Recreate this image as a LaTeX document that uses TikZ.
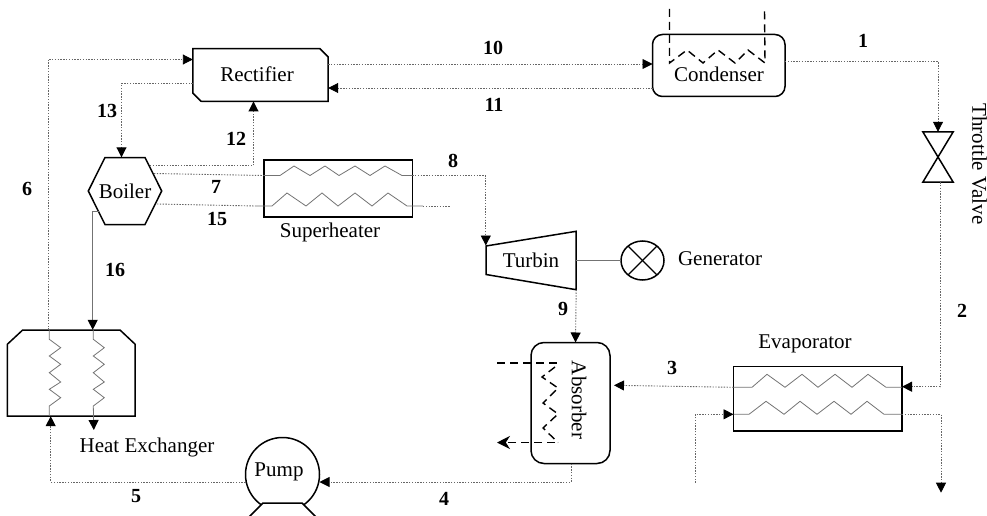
\documentclass[tikz,border=0pt]{standalone}
\usepackage{fontspec}
\setmainfont{Liberation Serif}
\usetikzlibrary{arrows.meta}
\usetikzlibrary{shapes.geometric}

\tikzset{
    unitbox/.style={draw=black, line width=1.5pt, inner sep=0pt, outer sep=0pt},
    flow/.style={draw=black!60, line width=0.9pt, dash pattern=on 1.4pt off 1.4pt},
    pipe/.style={draw=black!55, line width=0.8pt},
    coolant/.style={draw=black, line width=1.4pt, dash pattern=on 8pt off 5pt},
    tip/.style={-{Triangle[black,length=10pt,width=10pt]}},
    namelabel/.style={font=\fontsize{21}{25}\selectfont, inner sep=0pt},
    numlabel/.style={font=\fontsize{20}{24}\selectfont\bfseries, inner sep=0pt}
}

\begin{document}
\begin{tikzpicture}[x=1pt, y=-1pt]
    \useasboundingbox (0, 0) rectangle (987, 516);

    % units
    \node[inner sep=0pt, minimum width=135, minimum height=52.5] (rectifier) at (260.5, 75) {};
    \draw[unitbox] (rectifier.north west) -- (320, 48.75) -- (rectifier.east |- 0, 57) -- (rectifier.south east)
        -- (201, 101.25) -- (rectifier.west |- 0, 93) -- cycle;
    \node[namelabel] (rectifiertext) at (257, 74) {Rectifier};

    \node[unitbox, rounded corners=10pt, rectangle, minimum width=132.5, minimum height=62] (condenser) at (718.75, 65.5) {};
    \node[namelabel] (condensertext) at (719, 74) {Condenser};

    \node[namelabel, minimum width=73, minimum height=67] (boiler) at (125, 191) {Boiler};
    \draw[unitbox] (boiler.west) -- (105, 157.5) -- (145, 157.5) -- (boiler.east) -- (145, 224.5) -- (105, 224.5) -- cycle;
    \coordinate (boilerA) at (150, 165.5);
    \coordinate (boilerB) at (154, 173.5);
    \coordinate (boilerC) at (157, 204);
    \coordinate (boilerD) at (99, 211);

    \node[unitbox, rectangle, minimum width=148.5, minimum height=57] (superheater) at (338, 188.5) {};
    \node[namelabel] (superheatertext) at (330, 232) {Superheater};

    \node[namelabel, minimum width=90, minimum height=58] (turbin) at (531, 260.5) {Turbin};
    \draw[unitbox] (486, 246) -- (turbin.north east) -- (turbin.south east) -- (486, 274.5) -- cycle;

    \node[unitbox, ellipse, minimum width=43, minimum height=39] (generator) at (642.5, 260.5) {};
    \draw[line width=1.2pt] (generator.45) -- (generator.225);
    \draw[line width=1.2pt] (generator.135) -- (generator.-45);
    \node[namelabel] (generatortext) at (720, 259) {Generator};

    \node[minimum width=30, minimum height=50, inner sep=0pt] (valve) at (938, 157) {};
    \draw[unitbox] (valve.north west) -- (valve.north east) -- (valve.south west) -- (valve.south east) -- cycle;
    \node[namelabel, rotate=-90] (valvetext) at (979.5, 164) {Throttle Valve};

    \node[unitbox, rectangle, minimum width=168.5, minimum height=64.5] (evaporator) at (817.75, 398.75) {};
    \node[namelabel] (evaporatortext) at (805, 344) {Evaporator};

    \node[unitbox, rectangle, rounded corners=13pt, minimum width=79, minimum height=121] (absorber) at (570.5, 403) {};
    \node[namelabel, rotate=-90] (absorbertext) at (579, 400) {Absorber};
    \coordinate (absorberport) at (614, 385.3);

    \node[unitbox, circle, minimum size=74] (pump) at (282.5, 474.5) {};
    \filldraw[unitbox, fill=white] (263, 503) -- (302, 503) -- (316, 517) -- (249, 517) -- cycle;
    \node[namelabel] (pumptext) at (279, 472) {Pump};

    \node[inner sep=0pt, minimum width=127.5, minimum height=86] (exchanger) at (71.25, 373) {};
    \draw[unitbox] (exchanger.south west) -- (exchanger.west |- 0, 344.3) -- (22.7, 330) -- (120, 330)
        -- (exchanger.east |- 0, 344.3) -- (exchanger.south east) -- cycle;
    \node[namelabel] (exchangertext) at (147, 447) {Heat Exchanger};

    % coils
    \draw[pipe] (superheater.west |- 0, 175.5) -- (280, 175.5) -- (294, 166) -- (310, 175.5) -- (325, 166) -- (339, 175.5)
        -- (355, 166) -- (370, 175.5) -- (385, 166) -- (402, 175.5) -- (superheater.east |- 0, 175.5);
    \draw[pipe] (255, 206) -- (272, 206) -- (287, 193) -- (306, 206) -- (322, 193) -- (338, 206)
        -- (355, 193) -- (372, 206) -- (388, 193) -- (407, 206) -- (423, 206);

    \draw[pipe] (evaporator.west |- 0, 387.3) -- (752, 387.3) -- (767, 374.3) -- (785, 387.3) -- (802, 374.3) -- (818, 387.3)
        -- (835, 374.3) -- (852, 387.3) -- (868, 374.3) -- (886, 387.3) -- (evaporator.east |- 0, 387.3);
    \draw[pipe] (evaporator.west |- 0, 414.3) -- (749, 414.3) -- (766, 401.3) -- (784, 414.3) -- (800, 401.3) -- (817, 414.3)
        -- (834, 401.3) -- (851, 414.3) -- (867, 401.3) -- (884, 414.3) -- (evaporator.east |- 0, 414.3);

    \draw[pipe] (exchanger.north -| 49.3, 0) -- (49.3, 339.3) -- (60.7, 347.7) -- (49.3, 356) -- (60.7, 364.3) -- (49.3, 372.7)
        -- (60.7, 382) -- (49.3, 389.3) -- (60.7, 397.7) -- (49.3, 406) -- (exchanger.south -| 49.3, 0);
    \draw[pipe, tip] (exchanger.north -| 93.3, 0) -- (93.3, 339.3) -- (104.3, 347.7) -- (93.3, 356) -- (104.3, 364.3) -- (93.3, 372.7)
        -- (104.3, 382) -- (93.3, 389.3) -- (104.3, 397.7) -- (93.3, 406) -- (93.8, 430);

    % cooling water
    \coordinate (condenserinA) at (669.5, 9);
    \coordinate (condenserinB) at (764.5, 10);
    \draw[coolant] (condenserinA) -- (669.5, 63) -- (687, 50) -- (703, 63) -- (718, 50) -- (735, 63) -- (748, 50)
        -- (765, 63) -- (condenserinB);

    \coordinate (absorberin) at (497, 363);
    \coordinate (absorberout) at (497, 442.5);
    \draw[coolant] (absorberin) -- (560, 363);
    \draw[coolant] (555, 367) -- (542, 377) -- (558, 388) -- (543, 403) -- (558, 414) -- (543, 428) -- (558, 442.5);
    \draw[coolant, -{Stealth[length=13pt,width=13pt]}] (555, 442.5) -- (absorberout);

    % streams
    \draw[flow, tip] (exchanger.north -| 48, 0) -- (48, 59.5) -- (rectifier.west |- 0, 59.5);
    \draw[flow, tip] (rectifier.west |- 0, 83.5) -| (boiler.north -| 121.5, 0);
    \draw[flow, tip] (boilerA) -| (rectifier.south -| 253.5, 0);
    \draw[flow] (boilerB) -- (superheater.west |- 0, 175.5);
    \draw[flow] (boilerC) -- (255, 206);
    \draw[flow] (423, 206) -- (450, 206);
    \draw[flow, tip] (superheater.east |- 0, 175.5) -| (turbin.west |- 0, 245.5);
    \draw[flow, tip] (rectifier.east |- 0, 64) -- (condenser.west |- 0, 64);
    \draw[flow, tip] (condenser.west |- 0, 88) -- (rectifier.east |- 0, 88);
    \draw[flow, tip] (condenser.east |- 0, 61.5) -| (valve.north);
    \draw[flow, tip] (valve.south -| 940, 0) -- (940, 386.7) -- (evaporator.east |- 0, 386.7);
    \draw[flow, tip] (evaporator.west |- 0, 387.3) -- (absorberport);
    \draw[flow, tip] (turbin.south east) -- (absorber.north -| 575.5, 0);
    \draw[flow, tip] (absorber.south -| 571, 0) -- (571, 482) -- (pump.east |- 0, 482);
    \draw[flow, tip] (pump.west |- 0, 482) -- (50.7, 482) -- (exchanger.south -| 50.7, 0);
    \draw[pipe, tip] (boilerD) -- (92.7, 211) -- (exchanger.north -| 92.7, 0);
    \draw[pipe] (turbin.east) -- (generator.west);

    \coordinate (waterin) at (695, 482.7);
    \coordinate (waterout) at (941, 492.7);
    \draw[flow, tip] (waterin) -- (695, 414.3) -- (evaporator.west |- 0, 414.3);
    \draw[flow, tip] (evaporator.east |- 0, 414.3) -| (waterout);

    % state points
    \node[numlabel] (point1) at (863, 41) {1};
    \node[numlabel] (point2) at (962, 311) {2};
    \node[numlabel] (point3) at (672, 368) {3};
    \node[numlabel] (point4) at (444, 499) {4};
    \node[numlabel] (point5) at (136, 496) {5};
    \node[numlabel] (point6) at (27, 189) {6};
    \node[numlabel] (point7) at (216, 187) {7};
    \node[numlabel] (point8) at (453, 161) {8};
    \node[numlabel] (point9) at (563, 309) {9};
    \node[numlabel] (point10) at (493, 48) {10};
    \node[numlabel] (point11) at (494, 105) {11};
    \node[numlabel] (point12) at (236, 139) {12};
    \node[numlabel] (point13) at (107, 110.5) {13};
    \node[numlabel] (point15) at (217, 218.5) {15};
    \node[numlabel] (point16) at (115, 270) {16};
\end{tikzpicture}
\end{document}
